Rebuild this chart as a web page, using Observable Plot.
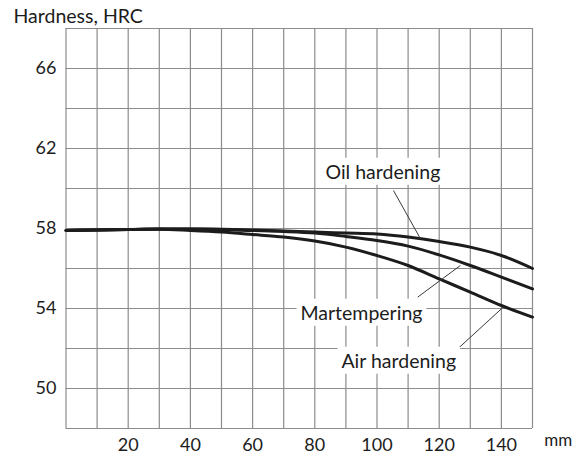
<!DOCTYPE html>
<html>
<head>
<meta charset="utf-8">
<script src="https://cdn.jsdelivr.net/npm/d3@7"></script>
<script src="https://cdn.jsdelivr.net/npm/@observablehq/plot@0.6"></script>
<style>
  html, body { margin: 0; padding: 0; background: #fff; }
</style>
</head>
<body>
<div id="chart"></div>
<script>
// Section thickness / depth, mm
const depth = [0, 10, 20, 30, 40, 50, 60, 70, 80, 90, 100, 110, 120, 130, 140, 150];
// Hardness, HRC
const oilHardening = [57.9, 57.92, 57.95, 57.97, 57.97, 57.96, 57.93, 57.88, 57.82, 57.77, 57.72, 57.57, 57.35, 57.07, 56.65, 56.0];
const martempering = [57.9, 57.92, 57.95, 57.97, 57.97, 57.95, 57.9, 57.85, 57.77, 57.6, 57.4, 57.12, 56.68, 56.15, 55.57, 54.98];
const airHardening = [57.9, 57.92, 57.95, 57.96, 57.9, 57.82, 57.7, 57.57, 57.37, 57.07, 56.65, 56.15, 55.48, 54.82, 54.15, 53.57];

const seriesNames = ["Oil hardening", "Martempering", "Air hardening"];
const seriesValues = [oilHardening, martempering, airHardening];

const xTicks = [20, 40, 60, 80, 100, 120, 140];
const yTicks = [50, 54, 58, 62, 66];
const xGrid = [0, 10, 20, 30, 40, 50, 60, 70, 80, 90, 100, 110, 120, 130, 140, 150];
const yGrid = [48, 50, 52, 54, 56, 58, 60, 62, 64, 66, 68];

// annotation labels (data units)
const labelX = [101.9, 95.0, 107.0];
const labelY = [60.8, 53.75, 51.35];
// leader lines (data units)
const leaderX1 = [105.3, 113.1, 126.3];
const leaderY1 = [59.9, 54.57, 52.03];
const leaderX2 = [114.0, 126.8, 140.6];
const leaderY2 = [57.48, 56.15, 54.07];

const xUnit = "mm";
const yTitle = "Hardness, HRC";

const rows = [];
seriesNames.forEach((s, i) => depth.forEach((d, j) => rows.push({series: s, x: d, y: seriesValues[i][j]})));
const labels = seriesNames.map((s, i) => ({text: s, x: labelX[i], y: labelY[i]}));
const leaders = seriesNames.map((s, i) => ({x1: leaderX1[i], y1: leaderY1[i], x2: leaderX2[i], y2: leaderY2[i]}));

const ink = "#1c1c1c";
const chart = Plot.plot({
  width: 585,
  height: 458,
  marginLeft: 65.5,
  marginRight: 53,
  marginTop: 28,
  marginBottom: 30,
  style: {fontFamily: "Lato, 'Open Sans', sans-serif", fontSize: "19.5px", color: ink, background: "#fff", overflow: "visible"},
  x: {domain: [0, 150]},
  y: {domain: [48, 68]},
  marks: [
    Plot.gridX(xGrid, {stroke: "#8c8c8c", strokeOpacity: 1, strokeWidth: 1.2}),
    Plot.gridY(yGrid, {stroke: "#8c8c8c", strokeOpacity: 1, strokeWidth: 1.2}),
    Plot.axisX(xTicks, {tickSize: 0, tickPadding: 10, label: null, fill: ink, fontSize: 18}),
    Plot.axisY(yTicks, {tickSize: 0, tickPadding: 9.5, label: null, fill: ink, fontSize: 18}),
    Plot.line(rows, {x: "x", y: "y", z: "series", stroke: "#1c1c1c", strokeWidth: 3, curve: "monotone-x"}),
    Plot.link(leaders, {x1: "x1", y1: "y1", x2: "x2", y2: "y2", stroke: "#3a3a3a", strokeWidth: 1}),
    Plot.text(labels, {x: "x", y: "y", text: "text", fill: ink, className: "lbl"}),
    Plot.text([xUnit], {x: 158.3, frameAnchor: "bottom", dy: 17.5, fill: ink, fontSize: 17}),
    Plot.text([yTitle], {frameAnchor: "top-left", dx: -52.5, dy: -6, lineAnchor: "bottom", textAnchor: "start", fill: ink})
  ]
});
document.getElementById("chart").appendChild(chart);

// white boxes behind annotation labels
chart.querySelectorAll("g.lbl text").forEach(t => {
  const b = t.getBBox();
  const r = document.createElementNS("http://www.w3.org/2000/svg", "rect");
  r.setAttribute("x", b.x - 4);
  r.setAttribute("y", b.y - 2);
  r.setAttribute("width", b.width + 8);
  r.setAttribute("height", b.height + 4);
  r.setAttribute("fill", "#fff");
  const tr = t.getAttribute("transform");
  if (tr) r.setAttribute("transform", tr);
  t.parentNode.insertBefore(r, t);
});
</script>
</body>
</html>
